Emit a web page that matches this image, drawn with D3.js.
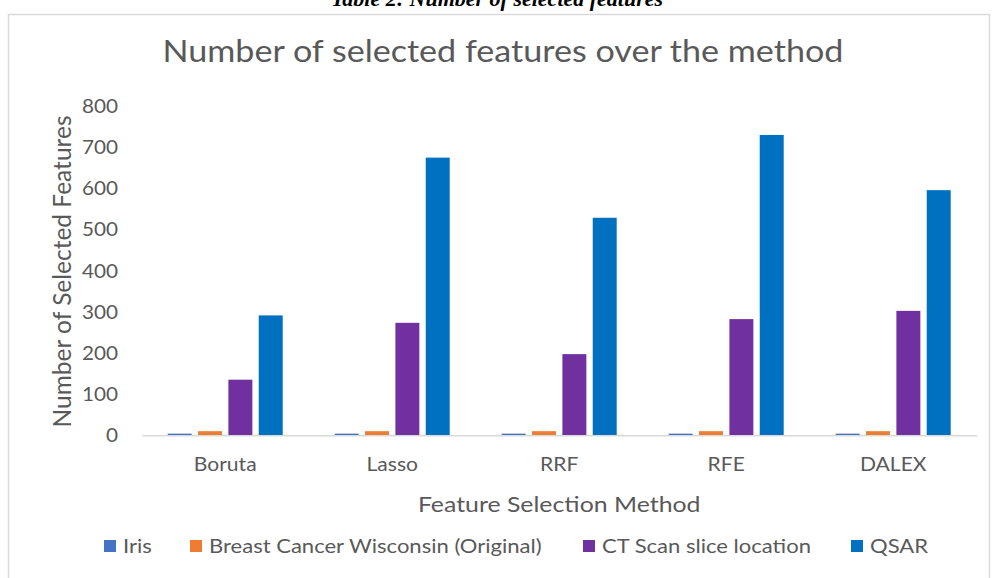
<!DOCTYPE html>
<html>
<head>
<meta charset="utf-8">
<script src="https://cdn.jsdelivr.net/npm/d3@7"></script>
<style>
  html, body { margin: 0; padding: 0; background: #ffffff; overflow: hidden; }
  svg { display: block; }
</style>
</head>
<body>
<svg id="chart" width="993" height="578"></svg>
<script>
const categories = ["Boruta", "Lasso", "RRF", "RFE", "DALEX"];
const seriesNames = ["Iris", "Breast Cancer Wisconsin (Original)", "CT Scan slice location", "QSAR"];
const iris = [4, 4, 4, 4, 4];
const breastCancer = [10, 10, 10, 10, 10];
const ctScan = [135, 273, 197, 282, 302];
const qsar = [291, 674, 528, 729, 595];
const yTicks = [0, 100, 200, 300, 400, 500, 600, 700, 800];
const colors = ["#4472C4", "#ED7D31", "#7030A0", "#0070C0"];

(function () {
const seriesValues = [iris, breastCancer, ctScan, qsar];
const font = "Lato, 'Open Sans', sans-serif";
const textColor = "#595959";

const svg = d3.select("#chart");

// caption partially cut off at the top
svg.append("text")
  .attr("x", 497).attr("y", 6)
  .attr("text-anchor", "middle")
  .attr("font-family", "'Liberation Serif', 'Times New Roman', serif")
  .attr("font-weight", "bold").attr("font-style", "italic")
  .attr("font-size", 22).attr("fill", "#000")
  .text("Table 2: Number of selected features");

// chart frame
svg.append("rect")
  .attr("x", 8.5).attr("y", 14.5).attr("width", 981).attr("height", 600)
  .attr("fill", "#fff").attr("stroke", "#d9d9d9").attr("stroke-width", 1.5);

const pLeft = 141.7, pRight = 976.7, pTop = 105.7, pBottom = 435.3;

const x0 = d3.scaleBand().domain(categories).range([pLeft, pRight]).padding(0);
const x1 = d3.scaleBand().domain(seriesNames)
  .range([26, x0.bandwidth() - 26]).paddingInner(0.21).paddingOuter(0);
const y = d3.scaleLinear().domain([0, 800]).range([pBottom, pTop]);

// title
svg.append("text")
  .attr("transform", "translate(503,62) scale(1.10,1)")
  .attr("text-anchor", "middle")
  .attr("font-family", font).attr("font-size", 31).attr("fill", textColor)
  .text("Number of selected features over the method");

// y axis (labels only)
const yAxis = d3.axisLeft(y).tickValues(yTicks).tickSize(0).tickPadding(0);
const gy = svg.append("g").attr("transform", `translate(${118},0)`).call(yAxis);
gy.select(".domain").remove();
gy.selectAll("text")
  .attr("font-family", font).attr("font-size", 18.5).attr("fill", textColor)
  .attr("x", 0).attr("dy", "0.36em")
  .attr("transform", "scale(1.12,1)");

// bars
const groups = svg.append("g").selectAll("g")
  .data(categories)
  .join("g")
  .attr("transform", d => `translate(${x0(d)},0)`);

groups.selectAll("rect")
  .data((c, ci) => seriesNames.map((s, si) => ({ s, si, v: seriesValues[si][ci] })))
  .join("rect")
  .attr("x", d => x1(d.s))
  .attr("width", x1.bandwidth())
  .attr("y", d => y(d.v))
  .attr("height", d => y(0) - y(d.v))
  .attr("fill", d => colors[d.si]);

// x axis line
const xAxis = d3.axisBottom(x0).tickSize(0).tickPadding(0);
const gx = svg.append("g").attr("transform", `translate(0,${pBottom})`).call(xAxis);
gx.select(".domain").attr("stroke", "#d9d9d9").attr("stroke-width", 1.5);
gx.selectAll("text")
  .attr("font-family", font).attr("font-size", 18.5).attr("fill", textColor)
  .attr("y", 0).attr("dy", 36)
  .attr("transform", "scale(1.14,1)");

// axis titles
svg.append("text")
  .attr("transform", `translate(${(pLeft + pRight) / 2},512) scale(1.13,1)`)
  .attr("text-anchor", "middle")
  .attr("font-family", font).attr("font-size", 22).attr("fill", textColor)
  .text("Feature Selection Method");

svg.append("text")
  .attr("transform", `translate(71,${(pTop + pBottom) / 2 + 1}) rotate(-90)`)
  .attr("text-anchor", "middle")
  .attr("font-family", font).attr("font-size", 24.5).attr("fill", textColor)
  .text("Number of Selected Features");

// legend
const legendX = [104, 190, 583, 851];
const lg = svg.append("g").selectAll("g")
  .data(seriesNames)
  .join("g")
  .attr("transform", (d, i) => `translate(${legendX[i]},540)`);
lg.append("rect").attr("width", 12).attr("height", 12).attr("fill", (d, i) => colors[i]);
lg.append("text")
  .attr("transform", "translate(19,6) scale(1.16,1)")
  .attr("dy", "0.36em")
  .attr("font-family", font).attr("font-size", 19).attr("fill", textColor)
  .text(d => d);
})();
</script>
</body>
</html>
